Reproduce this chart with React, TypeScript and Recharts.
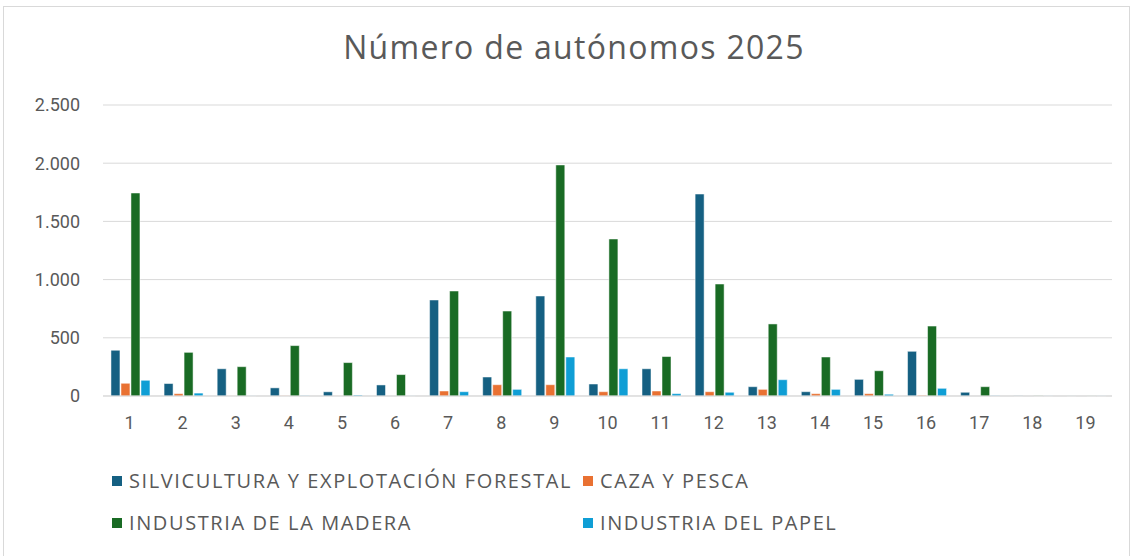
import React from "react";
import { BarChart, Bar, XAxis, YAxis, CartesianGrid, Legend } from "recharts";

const categories = ["1", "2", "3", "4", "5", "6", "7", "8", "9", "10", "11", "12", "13", "14", "15", "16", "17", "18", "19"];
const silvicultura = [393, 107, 234, 70, 36, 95, 825, 163, 859, 103, 234, 1735, 80, 37, 143, 384, 32, 2, 1];
const cazaPesca = [109, 20, 1, 2, 1, 0, 43, 97, 97, 37, 43, 37, 57, 20, 20, 6, 0, 0, 0];
const madera = [1744, 375, 252, 433, 287, 184, 902, 730, 1985, 1349, 339, 962, 619, 335, 217, 601, 80, 2, 1];
const papel = [135, 25, 1, 3, 8, 1, 37, 57, 335, 234, 20, 32, 140, 57, 15, 66, 3, 1, 1];
const yTicks = [0, 500, 1000, 1500, 2000, 2500];

const series = [
  { key: "silvicultura", name: "SILVICULTURA Y EXPLOTACIÓN FORESTAL", color: "#156082" },
  { key: "cazaPesca", name: "CAZA Y PESCA", color: "#E97132" },
  { key: "madera", name: "INDUSTRIA DE LA MADERA", color: "#196B24" },
  { key: "papel", name: "INDUSTRIA DEL PAPEL", color: "#0F9ED5" },
];

const data = categories.map((name, i) => ({
  name,
  silvicultura: silvicultura[i],
  cazaPesca: cazaPesca[i],
  madera: madera[i],
  papel: papel[i],
}));

const FONT = "Roboto, 'Liberation Sans', sans-serif";
const WIDE = "'Open Sans', Roboto, sans-serif";
const GREY = "#595959";

const fmt = (v: number) => v.toLocaleString("de-DE");

const LegendBox = () => (
  <div style={{ position: "relative", width: 1132, height: 90, fontFamily: WIDE }}>
    {series.map((s, i) => {
      const left = i % 2 === 0 ? 112 : 583;
      const top = i < 2 ? 5 : 47;
      return (
        <div
          key={s.key}
          style={{
            position: "absolute",
            left,
            top,
            display: "flex",
            alignItems: "center",
            color: GREY,
            fontSize: 20,
            letterSpacing: 1.6,
            whiteSpace: "nowrap",
          }}
        >
          <span style={{ width: 10, height: 10, background: s.color, marginRight: 7, display: "inline-block" }} />
          {s.name}
        </div>
      );
    })}
  </div>
);

export default function App() {
  return (
    <div style={{ position: "absolute", left: 0, top: 0, width: 1132, height: 556, background: "#fff", overflow: "hidden" }}>
      <div
        style={{
          position: "absolute",
          left: 3,
          top: 6,
          width: 1125,
          height: 570,
          border: "1px solid #d9d9d9",
        }}
      />
      <div
        style={{
          position: "absolute",
          left: 0,
          top: 25,
          width: 1148,
          textAlign: "center",
          fontFamily: WIDE,
          fontSize: 32,
          letterSpacing: 1.3,
          color: GREY,
        }}
      >
        Número de autónomos 2025
      </div>
      <div style={{ position: "absolute", left: 0, top: 0 }}>
        <BarChart
          width={1132}
          height={556}
          data={data}
          margin={{ top: 105, right: 20, left: 0, bottom: 130 }}
          barCategoryGap="15%"
          barGap={1}
        >
          <CartesianGrid vertical={false} stroke="#d9d9d9" />
          <XAxis
            dataKey="name"
            height={30}
            tickLine={false}
            axisLine={{ stroke: "#d9d9d9" }}
            tickMargin={14}
            tick={{ fill: GREY, fontSize: 18, fontFamily: FONT }}
          />
          <YAxis
            width={103}
            domain={[0, 2500]}
            ticks={yTicks}
            tickFormatter={fmt}
            tickLine={false}
            axisLine={false}
            tickMargin={17}
            tick={{ fill: GREY, fontSize: 18, fontFamily: FONT }}
          />
          <Legend
            layout="horizontal"
            verticalAlign="middle"
            align="center"
            wrapperStyle={{ top: 462, left: 0, width: 1132 }}
            content={() => <LegendBox />}
          />
          {series.map((s) => (
            <Bar key={s.key} dataKey={s.key} name={s.name} fill={s.color} stroke="#ffffff" strokeWidth={0.5} isAnimationActive={false} />
          ))}
        </BarChart>
      </div>
    </div>
  );
}
